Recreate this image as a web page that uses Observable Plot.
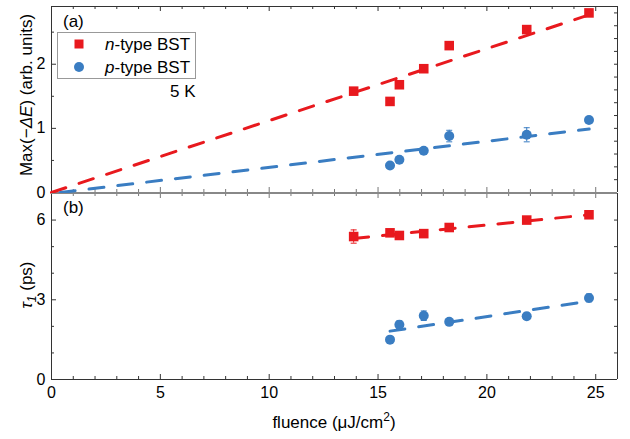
<!DOCTYPE html>
<html>
<head>
<meta charset="utf-8">
<script src="https://cdn.jsdelivr.net/npm/d3@7"></script>
<script src="https://cdn.jsdelivr.net/npm/@observablehq/plot@0.6"></script>
<style>
  body { margin: 0; background: #fff; }
  #chart { width: 630px; height: 439px; }
  #chart svg { display: block; }
</style>
</head>
<body>
<div id="chart"></div>
<script>
// ---- data ----
// (a) peak of −ΔE versus pump fluence
const fluenceN = [13.88, 15.55, 15.98, 17.10, 18.27, 21.83, 24.69];
const maxDeltaEN = [1.58, 1.42, 1.68, 1.93, 2.29, 2.54, 2.80];
const maxDeltaEErrN = [0.03, 0.03, 0.03, 0.03, 0.04, 0.04, 0.03];
const fluenceP = [15.55, 15.98, 17.10, 18.27, 21.83, 24.69];
const maxDeltaEP = [0.42, 0.51, 0.65, 0.88, 0.90, 1.13];
const maxDeltaEErrP = [0.03, 0.03, 0.04, 0.09, 0.11, 0.05];
// (b) fast relaxation time τ1 versus pump fluence
const tauN = [5.38, 5.52, 5.42, 5.49, 5.72, 6.00, 6.20];
const tauErrN = [0.25, 0.06, 0.06, 0.06, 0.12, 0.08, 0.08];
const tauP = [1.50, 2.06, 2.40, 2.17, 2.38, 3.07];
const tauErrP = [0.08, 0.15, 0.18, 0.10, 0.12, 0.15];
// linear fits (end points)
const fitMaxNx = [0, 24.7], fitMaxNy = [0, 2.77];
const fitMaxPx = [0.4, 24.7], fitMaxPy = [0, 0.99];
const fitTauNx = [13.88, 24.7], fitTauNy = [5.31, 6.20];
const fitTauPx = [15.55, 24.69], fitTauPy = [1.82, 2.95];
// axis ticks
const xMajor = [0, 5, 10, 15, 20, 25];
const xMinor = d3.range(1, 26).filter(v => v % 5 !== 0);
const yMajorA = [0, 1, 2], yMinorA = [0.5, 1.5, 2.5];
const yRightA = d3.range(1, 15).map(i => +(i * 0.2).toFixed(1));
const yMajorB = [0, 3, 6], yMinorB = [1, 2, 4, 5];
const yRightB = [1, 2, 3, 4, 5, 6];
const labelN = "n", labelP = "p", labelRest = "-type BST";

const RED = "#e8191e", BLUE = "#3a7dc2";
const FONT = '"Liberation Sans", Arial, sans-serif';
const W = 566, H = 186, ML = 51, MR = 13;
const MAJ = 5, MIN = 3;
const TICK_FS = 16, TEXT_FS = 17;

const rows = (xs, ys, es) => xs.map((x, i) => ({x, y: ys[i], e: es[i]}));
const pts = (xs, ys) => xs.map((x, i) => ({x, y: ys[i]}));
const cap = {draw(ctx) { ctx.moveTo(-3, 0); ctx.lineTo(3, 0); }};

function seriesMarks(data, color, symbol, r) {
  return [
    Plot.ruleX(data, {x: "x", y1: d => d.y - d.e, y2: d => d.y + d.e, stroke: color, strokeWidth: 1}),
    Plot.dot(data, {x: "x", y: d => d.y + d.e, symbol: cap, r: 2, stroke: color, strokeWidth: 1, fill: "none"}),
    Plot.dot(data, {x: "x", y: d => d.y - d.e, symbol: cap, r: 2, stroke: color, strokeWidth: 1, fill: "none"}),
    Plot.dot(data, {x: "x", y: "y", symbol, r, fill: color, stroke: "none"})
  ];
}
const fitLine = (xs, ys, color) =>
  Plot.line(pts(xs, ys), {x: "x", y: "y", stroke: color, strokeWidth: 3, strokeDasharray: "15,14"});

// frame ticks pointing inward
const ticksBottom = (v, len, c = "#333") => Plot.tickX(v, {x: d => d, insetTop: H - len, stroke: c});
const ticksTop = (v, len, c = "#333") => Plot.tickX(v, {x: d => d, insetBottom: H - len, stroke: c});
const ticksLeft = (v, len) => Plot.tickY(v, {y: d => d, insetRight: W - len, stroke: "#333"});
const ticksRight = (v, len) => Plot.tickY(v, {y: d => d, insetLeft: W - len, stroke: "#333"});

const common = {
  width: 630, marginLeft: ML, marginRight: MR,
  style: {fontFamily: FONT, fontSize: TICK_FS + "px", color: "#000", background: "#fff", overflow: "visible"}
};

// ---- panel (a) ----
const plotA = Plot.plot({
  ...common,
  height: 193, marginTop: 6, marginBottom: 1,
  x: {domain: [0, 26], axis: null},
  y: {domain: [0, 2.9], label: null},
  marks: [
    Plot.axisY({ticks: yMajorA, tickFormat: d3.format("d"), tickSize: 0, tickPadding: 6, fontSize: TICK_FS}),
    ticksLeft(yMajorA, MAJ), ticksLeft(yMinorA, MIN), ticksRight(yRightA, MIN),
    ticksTop(xMajor, MAJ), ticksTop(xMinor, MIN),
    ticksBottom(xMajor, MAJ, "#777"), ticksBottom(xMinor, MIN, "#777"),
    Plot.ruleX([0, 26], {stroke: "#333"}),
    Plot.ruleY([2.9], {stroke: "#333"}),
    Plot.ruleY([0], {stroke: "#888"}),
    fitLine(fitMaxNx, fitMaxNy, RED),
    fitLine(fitMaxPx, fitMaxPy, BLUE),
    ...seriesMarks(rows(fluenceN, maxDeltaEN, maxDeltaEErrN), RED, "square", 5.4),
    ...seriesMarks(rows(fluenceP, maxDeltaEP, maxDeltaEErrP), BLUE, "circle", 5)
  ]
});

// ---- panel (b) ----
const plotB = Plot.plot({
  ...common,
  height: 246, marginTop: 0, marginBottom: 60,
  x: {domain: [0, 26]},
  y: {domain: [0, 7], label: null},
  marks: [
    Plot.axisY({ticks: yMajorB, tickFormat: d3.format("d"), tickSize: 0, tickPadding: 6, fontSize: TICK_FS}),
    Plot.axisX({ticks: xMajor, tickFormat: d3.format("d"), tickSize: 0, tickPadding: 7, fontSize: TICK_FS, label: null}),
    ticksLeft(yMajorB, MAJ), ticksLeft(yMinorB, MIN), ticksRight(yRightB, MIN),
    ticksBottom(xMajor, MAJ), ticksBottom(xMinor, MIN),
    ticksTop(xMajor, MAJ, "#777"), ticksTop(xMinor, MIN, "#777"),
    Plot.ruleX([0, 26], {stroke: "#333"}),
    Plot.ruleY([0], {stroke: "#333"}),
    Plot.ruleY([7], {stroke: "#888"}),
    fitLine(fitTauNx, fitTauNy, RED),
    fitLine(fitTauPx, fitTauPy, BLUE),
    ...seriesMarks(rows(fluenceN, tauN, tauErrN), RED, "square", 5.4),
    ...seriesMarks(rows(fluenceP, tauP, tauErrP), BLUE, "circle", 5)
  ]
});

const chart = document.getElementById("chart");
chart.append(plotA, plotB);

// ---- rich-text annotations ----
const sa = d3.select(plotA), sb = d3.select(plotB);
const txt = (sel, x, y, size = TEXT_FS, anchor = "start") => sel.append("text")
  .attr("x", x).attr("y", y).attr("text-anchor", anchor)
  .attr("font-family", FONT).attr("font-size", size).attr("fill", "#000");

// y title (a)
const ta = txt(sa, 0, 0, TEXT_FS, "middle").attr("transform", "translate(32,95) rotate(-90)");
ta.append("tspan").text("Max(−");
ta.append("tspan").attr("font-style", "italic").text("ΔE");
ta.append("tspan").text(") (arb. units)");

// y title (b)
const tb = txt(sb, 0, 0, TEXT_FS, "middle").attr("transform", "translate(32,92) rotate(-90)");
tb.append("tspan").attr("font-style", "italic").text("τ");
tb.append("tspan").attr("font-style", "italic").attr("font-size", 12).attr("dy", 4).text("1");
tb.append("tspan").attr("dy", -4).text(" (ps)");

// x title
const tx = txt(sb, ML + W / 2, 235, TEXT_FS, "middle");
tx.append("tspan").text("fluence (μJ/cm");
tx.append("tspan").attr("font-size", 12).attr("dy", -7).text("2");
tx.append("tspan").attr("dy", 7).text(")");

// panel labels
txt(sa, 63, 27).text("(a)");
txt(sb, 63, 20).text("(b)");
txt(sa, 170, 97).text("5 K");

// legend
const lg = sa.append("g");
lg.append("rect").attr("x", 57.5).attr("y", 32.5).attr("width", 138).attr("height", 46)
  .attr("fill", "#fff").attr("stroke", "#999");
lg.append("rect").attr("x", 74.5).attr("y", 39.5).attr("width", 9).attr("height", 9).attr("fill", RED);
lg.append("circle").attr("cx", 79).attr("cy", 67).attr("r", 5).attr("fill", BLUE);
const l1 = txt(lg, 105, 50);
l1.append("tspan").attr("font-style", "italic").text(labelN);
l1.append("tspan").text(labelRest);
const l2 = txt(lg, 105, 73);
l2.append("tspan").attr("font-style", "italic").text(labelP);
l2.append("tspan").text(labelRest);
</script>
</body>
</html>
